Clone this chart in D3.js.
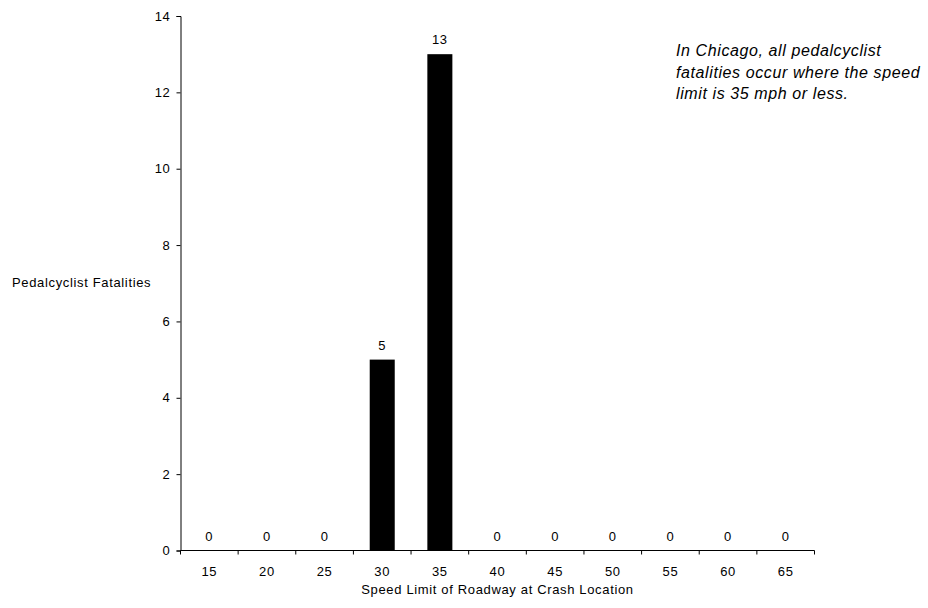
<!DOCTYPE html>
<html>
<head>
<meta charset="utf-8">
<script src="https://cdn.jsdelivr.net/npm/d3@7"></script>
<style>
  body { margin: 0; background: #fff; }
  svg { display: block; font-family: "Liberation Sans", Arial, sans-serif; }
</style>
</head>
<body>
<svg id="chart" width="928" height="608"></svg>
<script>
// Pedalcyclist fatalities by posted speed limit
const speedLimits = ["15", "20", "25", "30", "35", "40", "45", "50", "55", "60", "65"];
const fatalities = [0, 0, 0, 5, 13, 0, 0, 0, 0, 0, 0];
const yTicks = [0, 2, 4, 6, 8, 10, 12, 14];
const noteLines = [
  "In Chicago, all pedalcyclist",
  "fatalities occur where the speed",
  "limit is 35 mph or less."
];

const svg = d3.select("#chart");
const margin = { left: 180.5, right: 113.5, top: 16, bottom: 57.5 };
const W = 928, H = 608;
const fontSize = 13;
const spacing = 0.65;

const x = d3.scaleBand()
  .domain(speedLimits)
  .range([margin.left, W - margin.right])
  .paddingInner(0.566)
  .paddingOuter(0.283);

const y = d3.scaleLinear()
  .domain([0, 14])
  .range([H - margin.bottom, margin.top]);

// Bars
svg.append("g").selectAll("rect")
  .data(fatalities)
  .join("rect")
  .attr("x", (d, i) => x(speedLimits[i]))
  .attr("y", d => y(d))
  .attr("width", x.bandwidth())
  .attr("height", d => y(0) - y(d))
  .attr("fill", "#000");

// Value labels
svg.append("g").selectAll("text")
  .data(fatalities)
  .join("text")
  .attr("x", (d, i) => x(speedLimits[i]) + x.bandwidth() / 2)
  .attr("y", d => y(d) - 10)
  .attr("text-anchor", "middle")
  .attr("font-size", fontSize)
  .attr("letter-spacing", spacing)
  .attr("fill", "#000")
  .text(d => d);

// Y axis
const yAxis = d3.axisLeft(y).tickValues(yTicks).tickSize(4).tickPadding(6);
const gy = svg.append("g")
  .attr("transform", `translate(${margin.left},0)`)
  .call(yAxis);
gy.select(".domain").attr("stroke", "#000");
gy.selectAll(".tick line").attr("stroke", "#000");
gy.selectAll(".tick text")
  .attr("font-size", fontSize)
  .attr("letter-spacing", spacing)
  .attr("font-family", "'Liberation Sans', Arial, sans-serif")
  .attr("fill", "#000");

// X axis with ticks at category boundaries
const step = x.step();
const xBase = y(0);
const gx = svg.append("g");
gx.append("line")
  .attr("x1", margin.left).attr("x2", W - margin.right)
  .attr("y1", xBase).attr("y2", xBase)
  .attr("stroke", "#000");
const boundaries = d3.range(speedLimits.length + 1).map(i => margin.left + i * step);
gx.selectAll("line.tk")
  .data(boundaries)
  .join("line")
  .attr("class", "tk")
  .attr("x1", d => d).attr("x2", d => d)
  .attr("y1", xBase).attr("y2", xBase + 4)
  .attr("stroke", "#000");
gx.selectAll("text")
  .data(speedLimits)
  .join("text")
  .attr("x", d => x(d) + x.bandwidth() / 2)
  .attr("y", xBase + 25.5)
  .attr("text-anchor", "middle")
  .attr("font-size", fontSize)
  .attr("letter-spacing", spacing)
  .attr("fill", "#000")
  .text(d => d);

// Axis titles
svg.append("text")
  .attr("x", (margin.left + W - margin.right) / 2)
  .attr("y", 594)
  .attr("text-anchor", "middle")
  .attr("font-size", fontSize)
  .attr("letter-spacing", spacing)
  .text("Speed Limit of Roadway at Crash Location");

svg.append("text")
  .attr("x", 12)
  .attr("y", 287)
  .attr("font-size", fontSize)
  .attr("letter-spacing", spacing)
  .text("Pedalcyclist Fatalities");

// Note
svg.append("text")
  .attr("font-size", 16)
  .attr("font-style", "italic")
  .attr("letter-spacing", 0.6)
  .selectAll("tspan")
  .data(noteLines)
  .join("tspan")
  .attr("x", 676)
  .attr("y", (d, i) => 56 + i * 21.5)
  .text(d => d);
</script>
</body>
</html>
